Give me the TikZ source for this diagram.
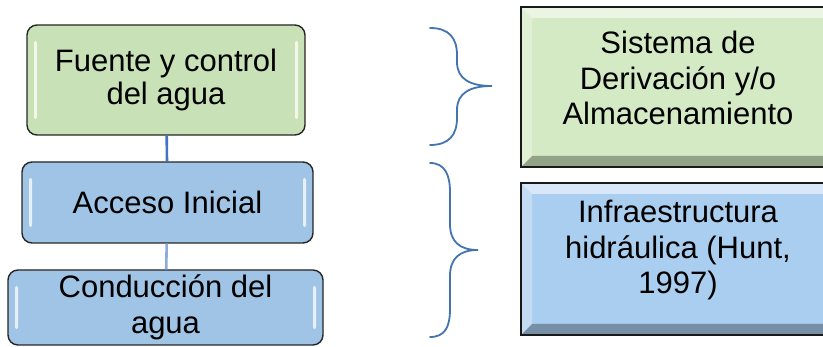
\documentclass[tikz,border=0pt]{standalone}
\usepackage{fontspec}
\setmainfont{Liberation Sans}
\usetikzlibrary{positioning}
\definecolor{verdeA}{RGB}{200,225,182}
\definecolor{verdeB}{RGB}{212,234,196}
\definecolor{azulA}{RGB}{160,196,230}
\definecolor{azulB}{RGB}{170,206,240}
\definecolor{lineaA}{RGB}{68,114,196}
\definecolor{lineaB}{RGB}{143,170,220}
\definecolor{llave}{RGB}{66,116,176}

\begin{document}
\begin{tikzpicture}[x=1pt,y=-1pt,semithick]
  \tikzstyle{txt}=[align=center,font=\fontsize{31}{35.5}\selectfont,inner sep=0pt]
  \tikzstyle{gbox}=[txt,draw=black!85,line width=1.4pt,rounded corners=10pt,
    path picture={
      \fill[white,opacity=.75,rounded corners=2pt]
        ([xshift=7pt,yshift=-16pt]path picture bounding box.north west) rectangle
        ([xshift=10pt,yshift=16pt]path picture bounding box.south west);
      \fill[white,opacity=.75,rounded corners=2pt]
        ([xshift=-7pt,yshift=-16pt]path picture bounding box.north east) rectangle
        ([xshift=-10pt,yshift=16pt]path picture bounding box.south east);}]
  \tikzstyle{bbox}=[draw=black!90,line width=1.8pt,inner sep=0pt,
    path picture={
      \fill[white,opacity=.55]
        (path picture bounding box.north west) -- (path picture bounding box.north east)
        -- ([xshift=-11pt,yshift=-11pt]path picture bounding box.north east)
        -- ([xshift=11pt,yshift=-11pt]path picture bounding box.north west) -- cycle;
      \fill[white,opacity=.3]
        (path picture bounding box.north west) -- ([xshift=11pt,yshift=-11pt]path picture bounding box.north west)
        -- ([xshift=11pt,yshift=11pt]path picture bounding box.south west)
        -- (path picture bounding box.south west) -- cycle;
      \fill[black,opacity=.3]
        (path picture bounding box.south west) -- (path picture bounding box.south east)
        -- ([xshift=-11pt,yshift=11pt]path picture bounding box.south east)
        -- ([xshift=11pt,yshift=11pt]path picture bounding box.south west) -- cycle;}]
  \tikzstyle{brace}=[draw=llave,line width=1.8pt,line cap=round]

  \useasboundingbox (0,0) rectangle (823,347);

  % left column
  \node[gbox,fill=verdeA,minimum width=278pt,minimum height=110pt,
    font=\fontsize{31}{32.5}\selectfont] (fuente) at (166,80)
    {Fuente y control\\del agua};
  \node[gbox,fill=azulA,minimum width=291pt,minimum height=81pt] (acceso) at (167.5,202.5)
    {Acceso Inicial};
  \node[gbox,fill=azulA,minimum width=315pt,minimum height=75pt] (conduccion) at (165.5,307.5)
    {Conducción del\\agua};

  \draw[lineaA,line width=2.6pt] (fuente) -- (acceso);
  \draw[lineaB,line width=2.6pt] (acceso) -- (conduccion);

  % braces
  \draw[brace] (430,28) .. controls (449,28) and (457,38) .. (457,55) -- (457,62)
    .. controls (457,79) and (470,86) .. (492,86)
    .. controls (470,86) and (457,93) .. (457,110) -- (457,118)
    .. controls (457,135) and (449,145) .. (430,145);
  \draw[brace] (430,163) .. controls (445,163) and (450,175) .. (450,192) -- (450,224)
    .. controls (450,242) and (460,250) .. (478,250)
    .. controls (460,250) and (450,258) .. (450,276) -- (450,309)
    .. controls (450,327) and (445,337) .. (430,337);

  % right column
  \node[bbox,fill=verdeB,minimum width=314pt,minimum height=160pt] (sistema) at (678,87) {};
  \node[txt] (sistemaTxt) at ([yshift=9pt]sistema.center)
    {Sistema de\\Derivación y/o\\Almacenamiento};
  \node[bbox,fill=azulB,minimum width=314pt,minimum height=152pt] (infra) at (678,259) {};
  \node[txt] (infraTxt) at ([yshift=9pt]infra.center)
    {Infraestructura\\hidráulica (Hunt,\\1997)};
\end{tikzpicture}
\end{document}
